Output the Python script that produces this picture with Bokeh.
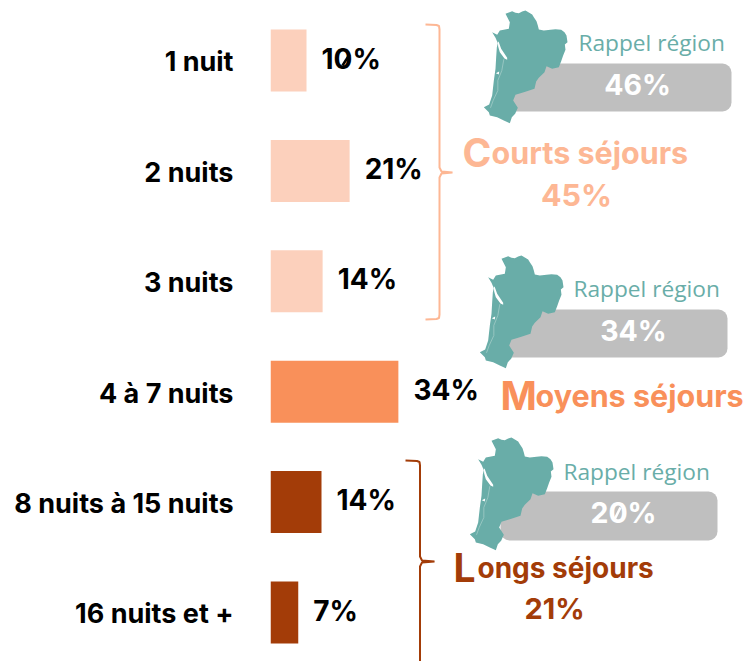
from bokeh.plotting import figure
from bokeh.models import Range1d, FixedTicker, LinearAxis, ColumnDataSource
from bokeh.core.properties import value
from bokeh.embed import file_html
from bokeh.resources import INLINE

categories = ["1 nuit", "2 nuits", "3 nuits", "4 à 7 nuits", "8 nuits à 15 nuits", "16 nuits et +"]
shares = [9.6, 21.1, 13.9, 34.1, 13.6, 7.4]
share_labels = ["10%", "21%", "14%", "34%", "14%", "7%"]
bar_colors = ["#fcd0bc", "#fcd0bc", "#fcd0bc", "#f9905a", "#a33c08", "#a33c08"]
region_values = ["46%", "34%", "20%"]
group_initials = ["C", "M", "L"]
group_rests = ["ourts séjours", "oyens séjours", "ongs séjours"]
group_totals = ["45%", "", "21%"]
group_colors = ["#fdb794", "#f9905a", "#a33c08"]

W, H = 748, 661
PX_PER_PCT = 3.75
ROW = 110.4
FONT = "Inter"


def X(px):
    return (px - 270) / PX_PER_PCT


def Y(py):
    return (py - 60) / ROW


rows = list(range(len(categories)))
tick_rows = [r + 0.012 for r in rows]
p = figure(width=W, height=H, output_backend="svg", toolbar_location=None,
           x_range=Range1d(0, X(W)), y_range=Range1d(Y(H), Y(0)),
           min_border_left=270, min_border_right=0, min_border_top=0, min_border_bottom=0,
           x_axis_location=None, y_axis_location=None, outline_line_color=None,
           background_fill_color=None, border_fill_color=None)
p.grid.visible = False

axis = LinearAxis(ticker=FixedTicker(ticks=tick_rows),
                  major_label_overrides={r: c for r, c in zip(tick_rows, categories)})
axis.axis_line_color = None
axis.major_tick_line_color = None
axis.minor_tick_line_color = None
axis.major_label_standoff = 31
axis.major_label_text_font = FONT
axis.major_label_text_font_style = "bold"
axis.major_label_text_font_size = "27px"
axis.major_label_text_color = "#000000"
p.add_layout(axis, "left")

src = ColumnDataSource(dict(y=rows, v=shares, c=bar_colors, t=share_labels))
p.hbar(y="y", left=0, right="v", height=62 / ROW, fill_color="c", line_color=None, source=src)
p.text(x="v", y="y", text="t", source=src, x_offset=15, y_offset=-2, text_baseline="middle",
       text_font=value(FONT), text_font_style="bold", text_font_size="28px", text_color="#000000")
# the reference's slashed zero in "10%"
p.line([X(342), X(349)], [Y(65), Y(54)], line_color="#000000", line_width=2.5)


def brace(x_in, x_v, x_tip, top, mid, bot, color, width=2):
    xs = [x_in, x_v - 3, x_v - 0.5, x_v, x_v, x_v + 2, x_tip, x_v + 2, x_v, x_v, x_v - 0.5, x_v - 3, x_in]
    ys = [top, top + 0.5, top + 1.5, top + 5, mid - 5, mid - 1, mid, mid + 1, mid + 5, bot - 5, bot - 1.5, bot - 0.5, bot]
    p.line([X(a) for a in xs], [Y(b) for b in ys], line_color=color, line_width=width)


brace(425, 439, 452, 24, 172, 319, group_colors[0])
brace(405, 419.5, 434, 460, 561, 720, group_colors[2])

# gray reminder boxes
box_right = [731, 727, 717]
box_top = [63, 309, 491]
box_bottom = [111, 357, 540]
map_dx = [0, -4, -14]
map_dy = [0, 245, 427]
rappel_x = [578, 573, 563]
rappel_base = [42, 288, 471]
value_x = [637, 633, 623]

outline = [(195, 40), (203, 37), (215, 32), (225, 37), (235, 38), (245, 33), (255, 30), (265, 36), (275, 42), (280, 50),
           (288, 62), (292, 75), (295, 87), (310, 90), (330, 88), (345, 86), (362, 88), (372, 95), (378, 105),
           (381, 125), (373, 132), (375, 148), (368, 165), (362, 182), (355, 200), (335, 205), (318, 197), (312, 215),
           (295, 232), (287, 243), (282, 265), (250, 275), (225, 283), (218, 300), (232, 322), (224, 340), (214, 350),
           (208, 368), (190, 360), (170, 350), (148, 345), (145, 335), (130, 320), (146, 312), (155, 285),
           (160, 240), (165, 205), (167, 170), (169, 140), (172, 128), (165, 112), (155, 95), (170, 103), (178, 90),
           (205, 85), (208, 65)]
estuary = [(172, 122), (175, 125), (182, 145), (200, 172), (200, 178), (192, 174), (178, 155), (173, 138)]
river = [(190, 176), (184, 210), (172, 240), (172, 270), (158, 300), (150, 322)]
lake = [(166, 218), (176, 213), (175, 222)]

TEAL = "#69ada8"
for i in range(3):
    p.quad(left=X(500), right=X(box_right[i]), top=Y(box_top[i]), bottom=Y(box_bottom[i]),
           fill_color="#bfbfbf", line_color=None, border_radius=9)
    dx, dy = map_dx[i], map_dy[i]
    conv = lambda pts: ([X(440 + a / 3 + dx) for a, _ in pts], [Y(b / 3 + dy) for _, b in pts])
    xs, ys = conv(outline)
    p.patch(xs, ys, fill_color=TEAL, line_color=None)
    xs, ys = conv(estuary)
    p.patch(xs, ys, fill_color="#ffffff", line_color=None)
    xs, ys = conv(lake)
    p.patch(xs, ys, fill_color="#ffffff", line_color=None)
    xs, ys = conv(river)
    p.line(xs, ys, line_color="#a9d0cc", line_width=0.7)
    p.text([X(rappel_x[i])], [Y(rappel_base[i])], text=["Rappel région"], text_baseline="alphabetic",
           text_font=value("Open Sans"), text_font_size="22.7px", text_color="#69ada8")
    p.text([X(value_x[i])], [Y(box_top[i] + 21)], text=[region_values[i]], text_align="center",
           text_baseline="middle", text_font=value(FONT), text_font_style="bold",
           text_font_size="28.5px", text_color="#ffffff")
# the reference's slashed zero in "20%"
p.line([X(614), X(620)], [Y(519), Y(507)], line_color="#ffffff", line_width=2.5)

# group titles
init_x = [462, 500, 453]
rest_x = [491, 535, 477]
base_y = [152, 395, 567]
rest_size = ["30.5px", "30.5px", "28px"]
total_x = [576, 0, 554]
total_y = [194, 0, 608]
total_size = ["30.5px", "28px", "29px"]
for i in range(3):
    p.text([X(init_x[i])], [Y(base_y[i])], text=[group_initials[i]], text_baseline="alphabetic",
           text_font=value(FONT), text_font_style="bold", text_font_size="39px", text_color=group_colors[i])
    p.text([X(rest_x[i])], [Y(base_y[i])], text=[group_rests[i]], text_baseline="alphabetic",
           text_font=value(FONT), text_font_style="bold", text_font_size=rest_size[i], text_color=group_colors[i])
    if group_totals[i]:
        p.text([X(total_x[i])], [Y(total_y[i])], text=[group_totals[i]], text_align="center",
               text_baseline="alphabetic", text_font=value(FONT), text_font_style="bold",
               text_font_size=total_size[i], text_color=group_colors[i])

open("out.html", "w").write(file_html(p, INLINE))
